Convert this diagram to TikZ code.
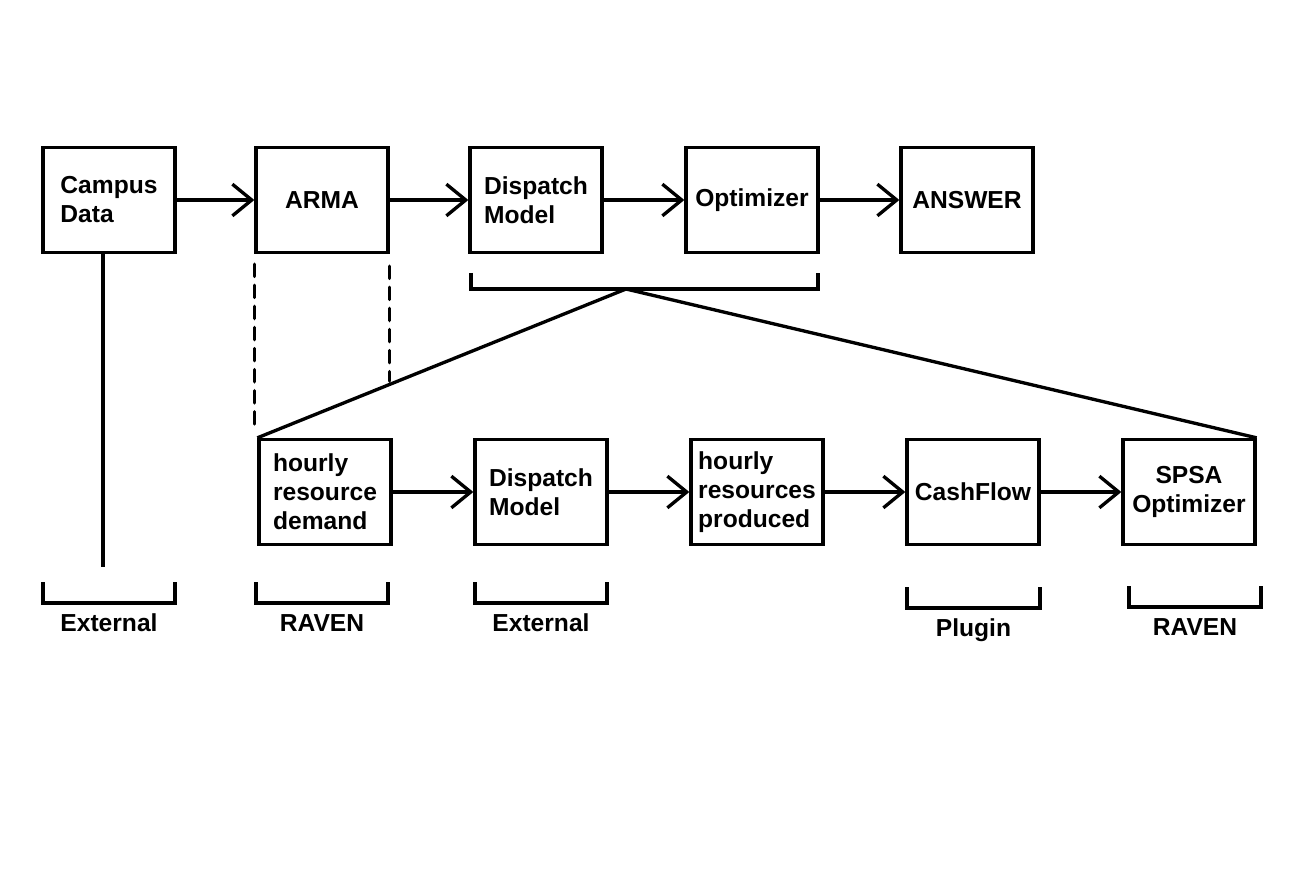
\documentclass[tikz,border=0pt]{standalone}
\usepackage{fontspec}
\setmainfont{Liberation Sans}
\usetikzlibrary{calc,positioning,arrows.meta}

\begin{document}
\begin{tikzpicture}[x=0.02cm,y=-0.02cm,line width=1.9pt,
  box/.style={draw,minimum width=2.64cm,minimum height=2.1cm,inner sep=0pt,align=left,font=\bfseries\fontsize{14}{16.5}\selectfont},
  flow/.style={-{Straight Barb[length=11pt,width=18pt]}},
  dashline/.style={dash pattern=on 7pt off 5pt,line cap=round},
  tag/.style={anchor=base,font=\bfseries\fontsize{14}{16.5}\selectfont}]
\newcommand{\drawbracket}[5]{\draw (#2,#4) -- (#2,#4+21) -- (#3,#4+21) -- (#3,#4); \node[tag] (#1) at ({(#2+#3)/2},#4+49) {#5};}
\useasboundingbox (0,0) rectangle (1305,871);
% top row
\node[box] (campus) at (109,200) {Campus\\Data};
\node[box] (arma) at (322,200) {ARMA};
\node[box] (dispatch) at (536,200) {Dispatch\\Model};
\node[box] (optimizer) at (752,200) {Optimizer};
\node[box] (answer) at (967,200) {ANSWER};
\draw[flow] (campus) -- (arma);
\draw[flow] (arma) -- (dispatch);
\draw[flow] (dispatch) -- (optimizer);
\draw[flow] (optimizer) -- (answer);
% bottom row
\node[box] (demand) at (325,492) {hourly\\resource\\demand};
\node[box] (dispatchb) at (541,492) {Dispatch\\Model};
\node[box] (produced) at (757,492) {hourly\\resources\\produced};
\node[box] (cashflow) at (973,492) {CashFlow};
\node[box,align=center] (spsa) at (1189,492) {SPSA\\Optimizer};
\draw[flow] (demand) -- (dispatchb);
\draw[flow] (dispatchb) -- (produced);
\draw[flow] (produced) -- (cashflow);
\draw[flow] (cashflow) -- (spsa);
% zoom in on dispatch + optimizer
\coordinate (apex) at (626,289);
\draw (471,273) -- (471,289) -- (818,289) -- (818,273);
\draw (apex) -- (demand.north west);
\draw (apex) -- (spsa.north east);
\draw[dashline] ($(arma.south west)+(0,10)$) -- ++(0,160);
\draw[dashline] ($(arma.south east)+(0,12)$) -- ++(0,115);
\draw ($(campus.south)+(-6,0)$) -- ++(0,313);
% where each piece comes from
\drawbracket{ext1}{43}{175}{582}{External}
\drawbracket{raven1}{256}{388}{582}{RAVEN}
\drawbracket{ext2}{475}{607}{582}{External}
\drawbracket{plugin}{907}{1040}{587}{Plugin}
\drawbracket{raven2}{1129}{1261}{586}{RAVEN}
\end{tikzpicture}
\end{document}
